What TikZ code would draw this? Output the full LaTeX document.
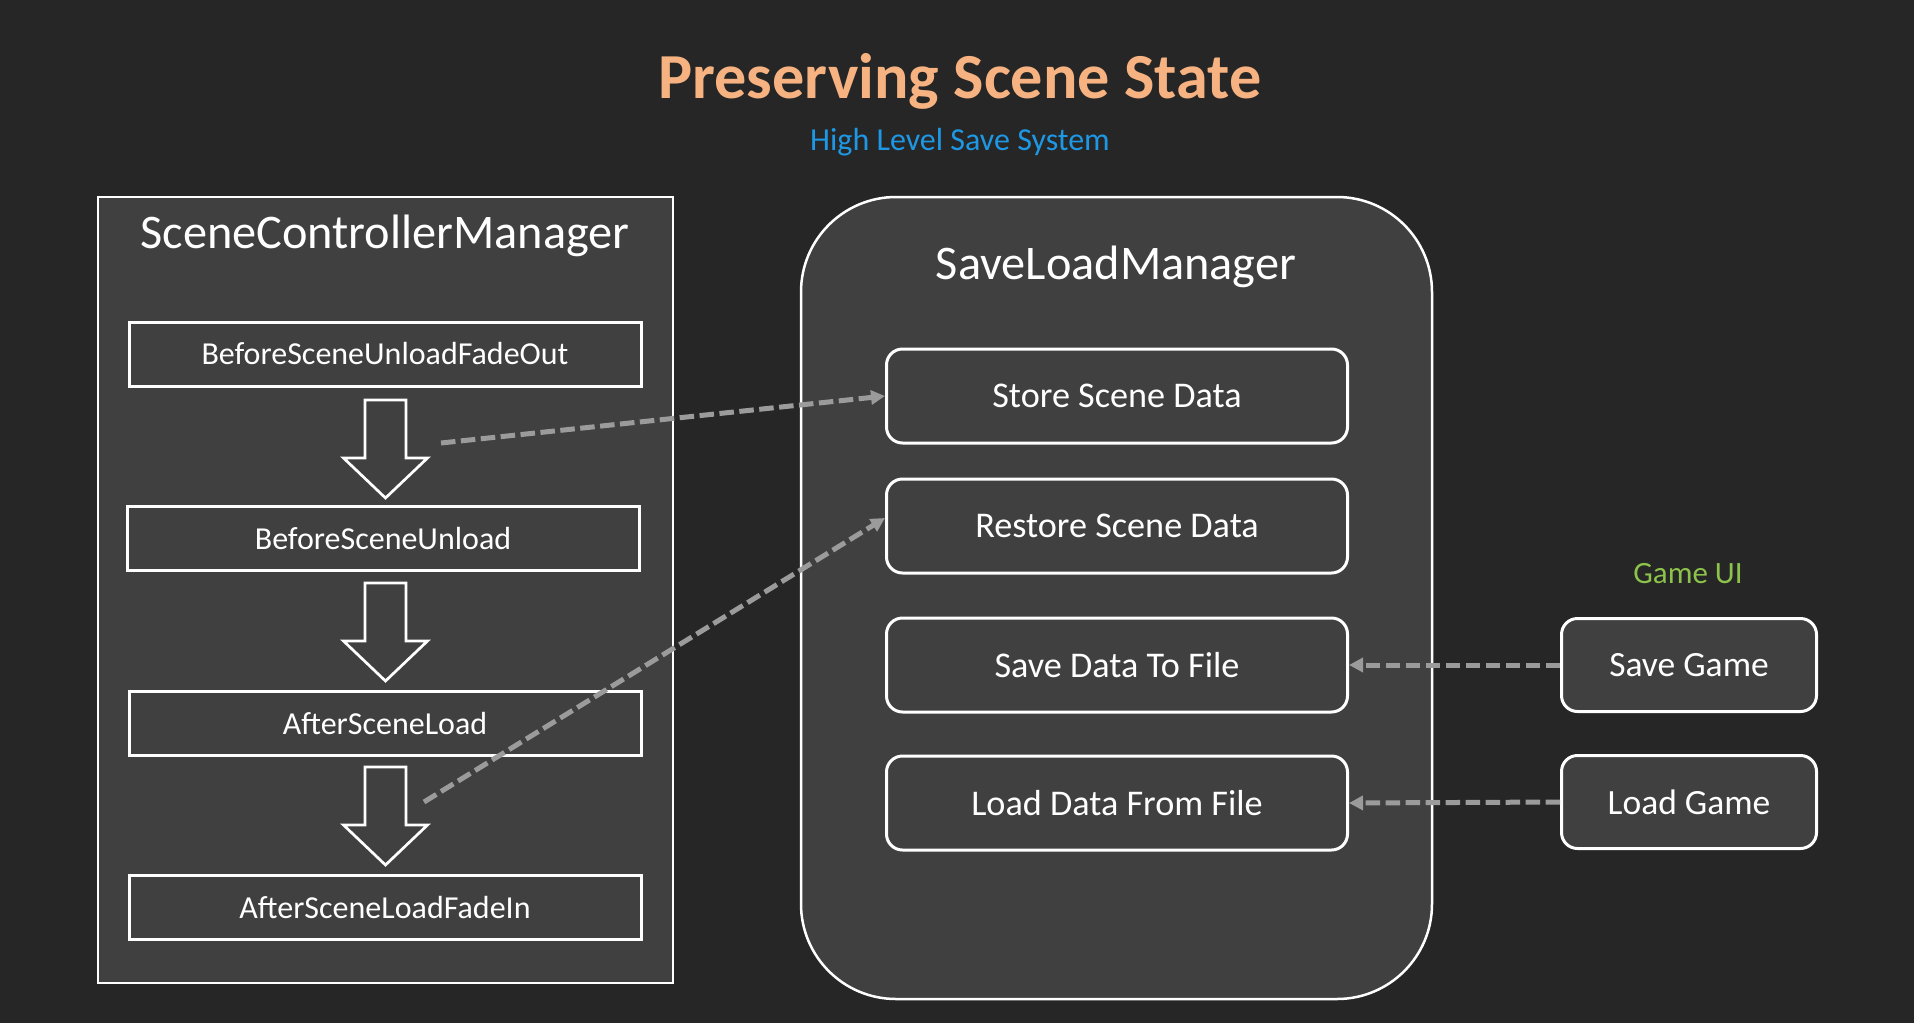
\documentclass[tikz,border=0pt]{standalone}
\usepackage{fontspec}
\setmainfont{Carlito}
\usetikzlibrary{arrows.meta}
\definecolor{bg}{RGB}{38,38,38}
\definecolor{panel}{RGB}{64,64,64}
\definecolor{titlecol}{RGB}{246,178,128}
\definecolor{subcol}{RGB}{30,152,228}
\definecolor{uicol}{RGB}{140,195,75}
\definecolor{dashcol}{RGB}{155,155,155}
\newcommand{\blkarrow}[2]{%
  \draw[blockarrow] (#1-20.5,#2) -- (#1+20.5,#2) -- (#1+20.5,#2+58) -- (#1+42,#2+58)
    -- (#1,#2+98) -- (#1-42,#2+58) -- (#1-20.5,#2+58) -- cycle;}
\begin{document}
\begin{tikzpicture}[x=1pt,y=-1pt,
  container/.style={draw=white, line width=2.5pt, fill=panel, inner sep=0pt},
  conttitle/.style={text=white, font=\fontsize{48.3}{56}\selectfont, inner sep=0pt},
  flowbox/.style={draw=white, line width=3pt, fill=panel, inner sep=0pt,
    minimum width=512pt, minimum height=64pt, text=white,
    font=\fontsize{32}{38}\selectfont},
  databox/.style={draw=white, line width=3pt, fill=panel, inner sep=0pt,
    rounded corners=16pt, minimum width=461pt, minimum height=94pt, text=white,
    font=\fontsize{36.2}{43}\selectfont},
  uibox/.style={draw=white, line width=3pt, fill=panel, inner sep=0pt,
    rounded corners=16pt, minimum width=255pt, minimum height=93pt, text=white,
    font=\fontsize{35.5}{42}\selectfont},
  blockarrow/.style={draw=white, line width=2.7pt, fill=panel, line join=miter},
  dasharrow/.style={draw=dashcol, line width=5pt, dash pattern=on 14.5pt off 5.5pt,
    -{Triangle[length=14pt,width=14pt]}}
]
\fill[bg] (0,0) rectangle (1914,1023);
\useasboundingbox (0,0) rectangle (1914,1023);

% titles
\node[text=titlecol, font=\bfseries\fontsize{64.2}{76}\selectfont, inner sep=0pt] (title) at (960,81) {Preserving Scene State};
\node[text=subcol, font=\fontsize{32}{38}\selectfont, inner sep=0pt] (subtitle) at (960,142) {High Level Save System};

% left container
\node[container, minimum width=575pt, minimum height=786pt] (scm) at (385.5,590) {};
\node[conttitle] (scmT) at (385,236) {SceneControllerManager};

\node[flowbox] (b1) at (385,354) {BeforeSceneUnloadFadeOut};
\node[flowbox] (b2) at (383,538) {BeforeSceneUnload};
\node[flowbox] (b3) at (385,723) {AfterSceneLoad};
\node[flowbox] (b4) at (385,907) {AfterSceneLoadFadeIn};

\blkarrow{385.5}{400}
\blkarrow{385.5}{583}
\blkarrow{385.5}{767}

% right container
\node[container, rounded corners=95pt, minimum width=631pt, minimum height=802pt] (slm) at (1116.5,598) {};
\node[conttitle] (slmT) at (1116,267) {SaveLoadManager};

\node[databox] (store) at (1117,396) {Store Scene Data};
\node[databox] (restore) at (1117,526) {Restore Scene Data};
\node[databox] (savefile) at (1117,665) {Save Data To File};
\node[databox] (loadfile) at (1117,803) {Load Data From File};

% game UI
\node[text=uicol, font=\fontsize{31}{37}\selectfont, inner sep=0pt] (gameui) at (1688,574) {Game UI};
\node[uibox] (savegame) at (1689,665) {Save Game};
\node[uibox] (loadgame) at (1689,802) {Load Game};

% dashed connectors
\coordinate (a1s) at (441,443);
\coordinate (a2s) at (424,802);
\draw[dasharrow] (a1s) -- (store.west);
\draw[dasharrow] (a2s) -- ([yshift=8pt]restore.west);
\draw[dasharrow] (savegame.west) -- (savefile.east);
\draw[dasharrow] (loadgame.west) -- (loadfile.east);
\end{tikzpicture}
\end{document}
